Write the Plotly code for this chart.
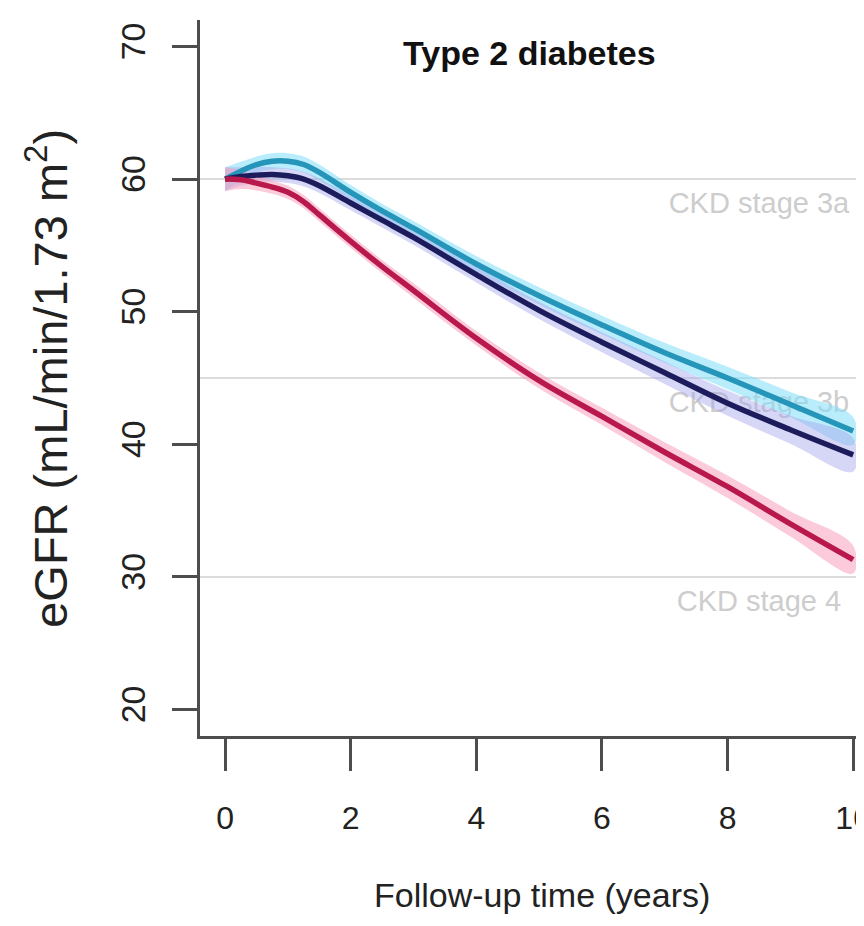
import plotly.graph_objects as go

# ---- data ----
years = [0, 0.25, 0.5, 0.75, 1, 1.25, 1.5, 2, 2.5, 3, 4, 5, 6, 7, 8, 9, 10]

egfr_cyan = [60.0, 60.6, 61.1, 61.35, 61.35, 61.1, 60.5, 59.0, 57.6, 56.3, 53.6, 51.2, 49.0, 46.9, 45.0, 43.0, 41.0]
egfr_navy = [60.0, 60.2, 60.3, 60.35, 60.25, 60.0, 59.5, 58.2, 56.9, 55.6, 52.8, 50.1, 47.7, 45.4, 43.1, 41.1, 39.2]
egfr_crimson = [60.0, 59.95, 59.7, 59.4, 59.0, 58.3, 57.3, 55.3, 53.4, 51.6, 48.0, 44.8, 42.1, 39.4, 36.8, 34.0, 31.3]

hw_cyan = [0.9, 0.7, 0.6, 0.6, 0.6, 0.6, 0.6, 0.55, 0.55, 0.55, 0.6, 0.65, 0.7, 0.75, 0.85, 0.95, 1.05]
hw_navy = [0.9, 0.7, 0.6, 0.55, 0.55, 0.55, 0.55, 0.55, 0.55, 0.55, 0.6, 0.65, 0.75, 0.85, 0.95, 1.05, 1.25]
hw_crimson = [0.9, 0.7, 0.55, 0.5, 0.5, 0.5, 0.5, 0.5, 0.5, 0.55, 0.55, 0.6, 0.65, 0.75, 0.85, 0.95, 1.05]

ckd_levels = [60, 45, 30]
ckd_labels = ["CKD stage 3a", "CKD stage 3b", "CKD stage 4"]
ckd_label_x = [8.5, 8.5, 8.5]
ckd_label_y = [58, 43, 28]

x_ticks = [0, 2, 4, 6, 8, 10]
y_ticks = [20, 30, 40, 50, 60, 70]

FONT = "Liberation Sans, Arial, Helvetica, sans-serif"

series = [
    ("cyan", egfr_cyan, hw_cyan, "#2595b9", "rgba(130,222,250,0.55)"),
    ("navy", egfr_navy, hw_navy, "#1c1c5c", "rgba(165,165,235,0.45)"),
    ("crimson", egfr_crimson, hw_crimson, "#b8184b", "rgba(248,160,190,0.55)"),
]

fig = go.Figure()

# CKD labels (drawn beneath the curves)
fig.add_trace(go.Scatter(
    x=ckd_label_x, y=ckd_label_y, text=ckd_labels, mode="text",
    textposition="middle center",
    textfont=dict(family=FONT, size=29, color="#cdcdcd"),
    hoverinfo="skip", showlegend=False,
))

# confidence bands
for name, vals, hw, lc, bc in series:
    upper = [v + h for v, h in zip(vals, hw)]
    lower = [v - h for v, h in zip(vals, hw)]
    fig.add_trace(go.Scatter(
        x=years + years[::-1], y=upper + lower[::-1],
        fill="toself", fillcolor=bc, line=dict(width=0, shape="spline"),
        mode="lines", hoverinfo="skip", showlegend=False,
    ))

# centre lines
for name, vals, hw, lc, bc in series:
    fig.add_trace(go.Scatter(
        x=years, y=vals, mode="lines", name=name,
        line=dict(color=lc, width=5.5, shape="spline", smoothing=1.0),
        showlegend=False,
    ))

for lvl in ckd_levels:
    fig.add_shape(type="line", xref="paper", x0=0, x1=1, yref="y", y0=lvl, y1=lvl,
                  line=dict(color="#dcdcdc", width=2), layer="below")

axis_col = "#4d4d4d"
fig.update_xaxes(
    range=[-0.4, 10.3], tickvals=x_ticks, ticktext=[str(t) for t in x_ticks],
    showgrid=False, zeroline=False, showline=True, linecolor=axis_col, linewidth=2.5,
    ticks="outside", ticklen=32, tickwidth=2.5, tickcolor=axis_col,
    tickfont=dict(family=FONT, size=32, color="#222222"),
    ticklabelstandoff=20,
)
fig.update_yaxes(
    range=[18, 72], tickvals=y_ticks, ticktext=[str(t) for t in y_ticks],
    showgrid=False, zeroline=False, showline=True, linecolor=axis_col, linewidth=2.5,
    ticks="outside", ticklen=25, tickwidth=2.5, tickcolor=axis_col,
    tickfont=dict(family=FONT, size=34, color="#222222"), tickangle=-90,
    ticklabelstandoff=14,
)

fig.add_annotation(text="Follow-up time (years)", xref="paper", yref="paper",
                   x=0.509, y=-0.222, showarrow=False, xanchor="center", yanchor="middle",
                   font=dict(family=FONT, size=34, color="#222222"))
fig.add_annotation(text="eGFR (mL/min/1.73 m<sup>2</sup>)", xref="paper", yref="paper",
                   x=-0.228, y=0.5, showarrow=False, xanchor="center", yanchor="middle",
                   textangle=-90, font=dict(family=FONT, size=47, color="#222222"))
fig.add_annotation(text="<b>Type 2 diabetes</b>", xref="paper", yref="paper",
                   x=0.49, y=0.954, showarrow=False, xanchor="center", yanchor="middle",
                   font=dict(family=FONT, size=34, color="#111111"))

fig.update_layout(
    width=864, height=926,
    margin=dict(l=192, r=0, t=12, b=198),
    plot_bgcolor="white", paper_bgcolor="white",
    showlegend=False,
)

fig.write_html("out.html")
